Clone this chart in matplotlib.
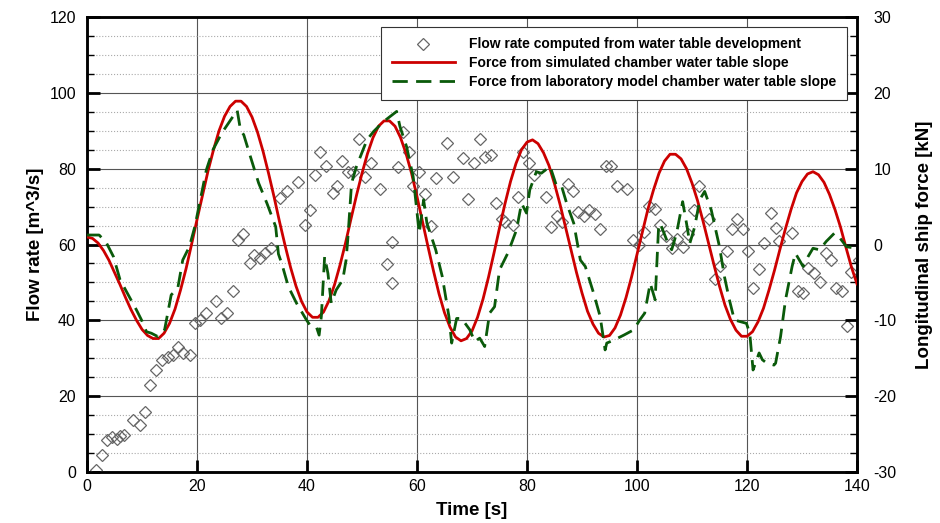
import numpy as np
import matplotlib
matplotlib.use('Agg')
import matplotlib.pyplot as plt
from matplotlib.lines import Line2D
from matplotlib.ticker import MultipleLocator

plt.rcParams['font.family'] = ['Liberation Sans', 'DejaVu Sans']
plt.rcParams['axes.unicode_minus'] = False

# flow rate computed from water table development [m^3/s]
flow_t = [1.6, 2.7, 3.6, 4.5, 5.4, 6.0, 6.7, 8.4, 9.6, 10.5, 11.5, 12.5, 13.6, 14.8, 15.6,
          16.6, 17.5, 18.7, 19.6, 20.5, 21.6, 23.5, 24.4, 25.5, 26.5, 27.5, 28.3, 29.6, 30.4,
          31.5, 32.4, 33.5, 35.1, 36.3, 38.4, 39.6, 40.5, 41.5, 42.4, 43.5, 44.8, 45.5, 46.4,
          47.4, 48.3, 49.5, 50.5, 51.6, 53.3, 54.5, 55.5, 55.5, 56.6, 57.5, 58.5, 59.3, 60.4,
          61.5, 62.5, 63.5, 65.5, 66.5, 68.4, 69.3, 70.4, 71.5, 72.4, 73.4, 74.4, 75.4, 76.0,
          77.5, 78.4, 79.3, 80.4, 81.3, 83.4, 84.3, 85.4, 86.3, 87.4, 88.3, 89.3, 90.4, 91.3,
          92.4, 93.3, 94.4, 95.3, 96.3, 98.1, 99.3, 100.4, 101.2, 102.2, 103.3, 104.1, 105.3,
          106.3, 107.2, 108.3, 109.3, 110.4, 111.3, 113.1, 114.2, 115.1, 116.3, 117.2, 118.2,
          119.2, 120.2, 121.1, 122.2, 123.1, 124.3, 125.3, 125.9, 128.2, 129.2, 130.2, 131.1,
          132.2, 133.3, 134.3, 135.2, 136.2, 137.2, 138.2, 139.0, 140.3]
flow_q = [0.5, 4.5, 8.4, 9.3, 8.8, 9.5, 9.8, 13.7, 12.4, 15.9, 23.0, 26.9, 29.6, 30.4, 30.9,
          33.1, 31.3, 30.9, 39.2, 40.1, 41.9, 45.2, 40.5, 42.0, 47.8, 61.2, 62.8, 55.1, 57.3,
          56.4, 57.7, 59.0, 72.2, 74.0, 76.6, 65.2, 69.1, 78.4, 84.5, 80.6, 73.7, 75.5, 82.1,
          79.2, 79.2, 87.8, 77.9, 81.5, 74.7, 54.8, 60.6, 49.9, 80.4, 89.8, 84.5, 75.3, 79.2,
          73.4, 65.0, 77.5, 86.9, 77.7, 82.8, 71.9, 81.4, 87.8, 83.0, 83.6, 70.9, 66.8, 66.0,
          65.2, 72.6, 84.5, 81.6, 78.2, 72.6, 64.7, 67.4, 66.0, 75.9, 74.0, 68.7, 67.4, 69.1,
          68.0, 64.0, 80.7, 80.6, 75.3, 74.6, 61.2, 59.9, 63.2, 70.2, 69.3, 65.2, 62.2,
          59.0, 61.4, 59.4, 62.8, 69.1, 75.3, 66.8, 50.9, 54.4, 58.4, 64.0, 66.8,
          64.0, 58.4, 48.6, 53.5, 60.3, 68.3, 64.3, 60.8, 63.1, 47.8, 47.2, 53.7,
          52.6, 50.2, 57.7, 55.9, 48.6, 47.8, 38.5, 52.7, 55.9]

# force from simulated chamber water table slope [kN], one value per second 0..140
sim_t = list(range(0, 141))
sim_f = [1.0, 0.8, 0.2, -0.8, -2.1, -3.7, -5.3, -7.0, -8.6, -10.0, -11.2, -12.0, -12.4,
         -12.4, -11.7, -10.4, -8.5, -6.0, -3.2, 0.0, 3.3, 6.5, 9.7, 12.5, 15.0, 16.9, 18.2,
         18.9, 18.9, 18.2, 16.8, 14.8, 12.3, 9.4, 6.3, 3.0, -0.1, -3.0, -5.5, -7.5, -8.9,
         -9.6, -9.6, -8.9, -7.4, -5.3, -2.7, 0.2, 3.4, 6.5, 9.4, 12.0, 14.1, 15.6, 16.3,
         16.3, 15.6, 14.1, 12.0, 9.4, 6.3, 3.0, -0.3, -3.5, -6.5, -9.0, -10.9, -12.2, -12.7,
         -12.4, -11.4, -9.6, -7.2, -4.3, -1.1, 2.2, 5.4, 8.3, 10.7, 12.5, 13.5, 13.8, 13.3,
         12.1, 10.4, 8.0, 5.3, 2.3, -0.7, -3.7, -6.4, -8.8, -10.5, -11.7, -12.2, -12.0,
         -11.0, -9.3, -7.0, -4.3, -1.3, 1.7, 4.7, 7.2, 9.4, 11.0, 11.9, 11.9, 11.3, 10.0,
         8.1, 5.8, 3.1, 0.2, -2.7, -5.5, -8.0, -9.9, -11.3, -12.1, -12.1, -11.5, -10.2,
         -8.4, -6.0, -3.4, -0.6, 2.1, 4.6, 6.8, 8.3, 9.3, 9.6, 9.2, 8.2, 6.6, 4.6, 2.3,
         -0.4, -3.0, -5.2]

# force from laboratory model chamber water table slope [kN]
lab_t = [0.0, 2.2, 3.5, 4.8, 6.0, 9.0, 9.9, 10.8, 11.7, 12.9, 14.1, 15.3, 16.5, 17.4, 18.6,
         19.6, 21.7, 22.9, 24.5, 27.3, 27.9, 28.5, 29.7, 31.2, 32.7, 34.3, 34.8, 35.4, 36.6,
         38.1, 39.9, 40.5, 41.7, 42.2, 42.6, 43.2, 43.8, 44.4, 45.3, 46.5, 47.1, 47.4, 48.1,
         49.0, 50.9, 52.1, 53.9, 56.3, 56.9, 58.1, 59.3, 60.4, 61.2, 61.8, 63.4, 64.6, 65.8,
         66.3, 67.2, 68.1, 69.6, 70.5, 71.4, 72.3, 73.2, 74.1, 75.0, 76.5, 77.4, 78.1, 79.0,
         79.9, 80.5, 81.7, 82.6, 84.2, 85.4, 86.3, 87.2, 88.5, 89.7, 90.6, 92.1, 93.3, 94.2,
         94.5, 95.8, 97.6, 99.4, 100.5, 101.4, 102.4, 103.3, 103.9, 104.2, 105.4, 106.3,
         107.2, 108.3, 109.0, 109.6, 110.5, 111.4, 112.3, 113.5, 115.0, 115.9, 116.8, 117.7,
         119.9, 120.5, 121.1, 122.2, 122.8, 123.6, 124.9, 125.2, 126.1, 127.0, 128.2, 128.8,
         130.2, 131.1, 132.0, 133.2, 134.4, 135.9, 136.9, 138.1, 140.0]
lab_f = [1.25, 1.25, 0.25, -1.6, -4.65, -8.65, -9.95, -11.5, -11.7, -12.15, -11.25, -6.65,
         -5.75, -2.05, -0.3, 2.35, 9.85, 12.5, 14.7, 17.7, 15.1, 14.45, 11.6, 8.1, 5.45, 2.35,
         -1.25, -2.5, -5.55, -7.75, -9.95, -10.6, -10.85, -11.95, -9.5, -1.6, -3.8, -7.75,
         -6.0, -4.65, -2.05, 0.6, 8.1, 10.3, 13.8, 14.9, 16.2, 17.55, 15.55, 12.9, 8.95, 1.5,
         5.9, 2.8, -0.7, -4.25, -9.5, -13.0, -9.75, -9.75, -11.25, -12.8, -12.35, -13.45,
         -9.05, -8.2, -3.35, -1.15, 0.6, 1.95, 5.45, 4.15, 7.2, 9.6, 9.4, 10.3, 7.65, 7.65,
         5.45, 2.8, -2.05, -2.9, -6.4, -9.5, -13.9, -13.0, -12.6, -11.95, -11.25, -9.95,
         -9.05, -5.1, -7.3, 1.95, 2.8, 0.6, -0.7, 1.5, 5.65, 2.8, 0.15, 2.35, 5.9, 7.0, 4.55,
         -0.3, -4.25, -7.3, -9.95, -10.4, -11.7, -16.55, -14.3, -15.2, -15.65, -15.9, -15.65,
         -12.15, -7.3, -2.9, -1.15, -2.9, -1.6, -0.5, -0.7, 0.4, 1.5, 0.85, -0.3, -0.5]

fig = plt.figure(figsize=(9.4, 5.23), dpi=100)
ax = fig.add_axes([0.0926, 0.0975, 0.8191, 0.87])
ax2 = ax.twinx()

ax.plot(flow_t, flow_q, linestyle='none', marker='D', markersize=6.5,
        markerfacecolor='none', markeredgecolor='#666666', markeredgewidth=0.9, zorder=3)
ax2.plot(sim_t, sim_f, color='#cc0000', lw=2, zorder=4)
ax2.plot(lab_t, lab_f, color='#0a5a0a', lw=2, dashes=(5.5, 3), zorder=5)

ax.set_xlim(0, 140)
ax.set_ylim(0, 120)
ax2.set_ylim(-30, 30)

ax.xaxis.set_major_locator(MultipleLocator(20))
ax.yaxis.set_major_locator(MultipleLocator(20))
ax.yaxis.set_minor_locator(MultipleLocator(5))
ax2.yaxis.set_major_locator(MultipleLocator(10))
ax2.yaxis.set_minor_locator(MultipleLocator(2.5))

ax.grid(which='major', color='#555555', lw=0.8)
ax.grid(which='minor', axis='y', color='#aaaaaa', lw=0.8, linestyle=':')
ax.set_axisbelow(True)

for a in (ax, ax2):
    a.tick_params(which='major', direction='in', length=9, width=2, labelsize=11.5)
    a.tick_params(which='minor', direction='in', length=5, width=1)
    for s in a.spines.values():
        s.set_linewidth(1.8)
ax.tick_params(axis='x', which='major', pad=5)
ax.tick_params(axis='y', which='major', pad=8, right=False)
ax2.tick_params(axis='y', which='major', pad=12)

ax.set_xlabel('Time [s]', fontsize=13.5, fontweight='bold', labelpad=6)
ax.set_ylabel('Flow rate [m^3/s]', fontsize=13.5, fontweight='bold', labelpad=4)
ax2.set_ylabel('Longitudinal ship force [kN]', fontsize=13.5, fontweight='bold', labelpad=14)

handles = [
    Line2D([], [], linestyle='none', marker='D', markersize=6.5, markerfacecolor='none',
           markeredgecolor='#666666', markeredgewidth=0.9),
    Line2D([], [], color='#cc0000', lw=2),
    Line2D([], [], color='#0a5a0a', lw=2, dashes=(5.5, 3)),
]
labels = ['Flow rate computed from water table development',
          'Force from simulated chamber water table slope',
          'Force from laboratory model chamber water table slope']
leg = ax2.legend(handles, labels, loc='upper right', bbox_to_anchor=(0.987, 0.978),
                 borderaxespad=0, fancybox=False, framealpha=1, edgecolor='#333333',
                 handlelength=4.6, handletextpad=1.0, labelspacing=0.35, borderpad=0.75,
                 prop={'weight': 'bold', 'size': 10})
leg.get_frame().set_linewidth(0.8)
leg.set_zorder(10)

fig.savefig('out.png', dpi=100)
